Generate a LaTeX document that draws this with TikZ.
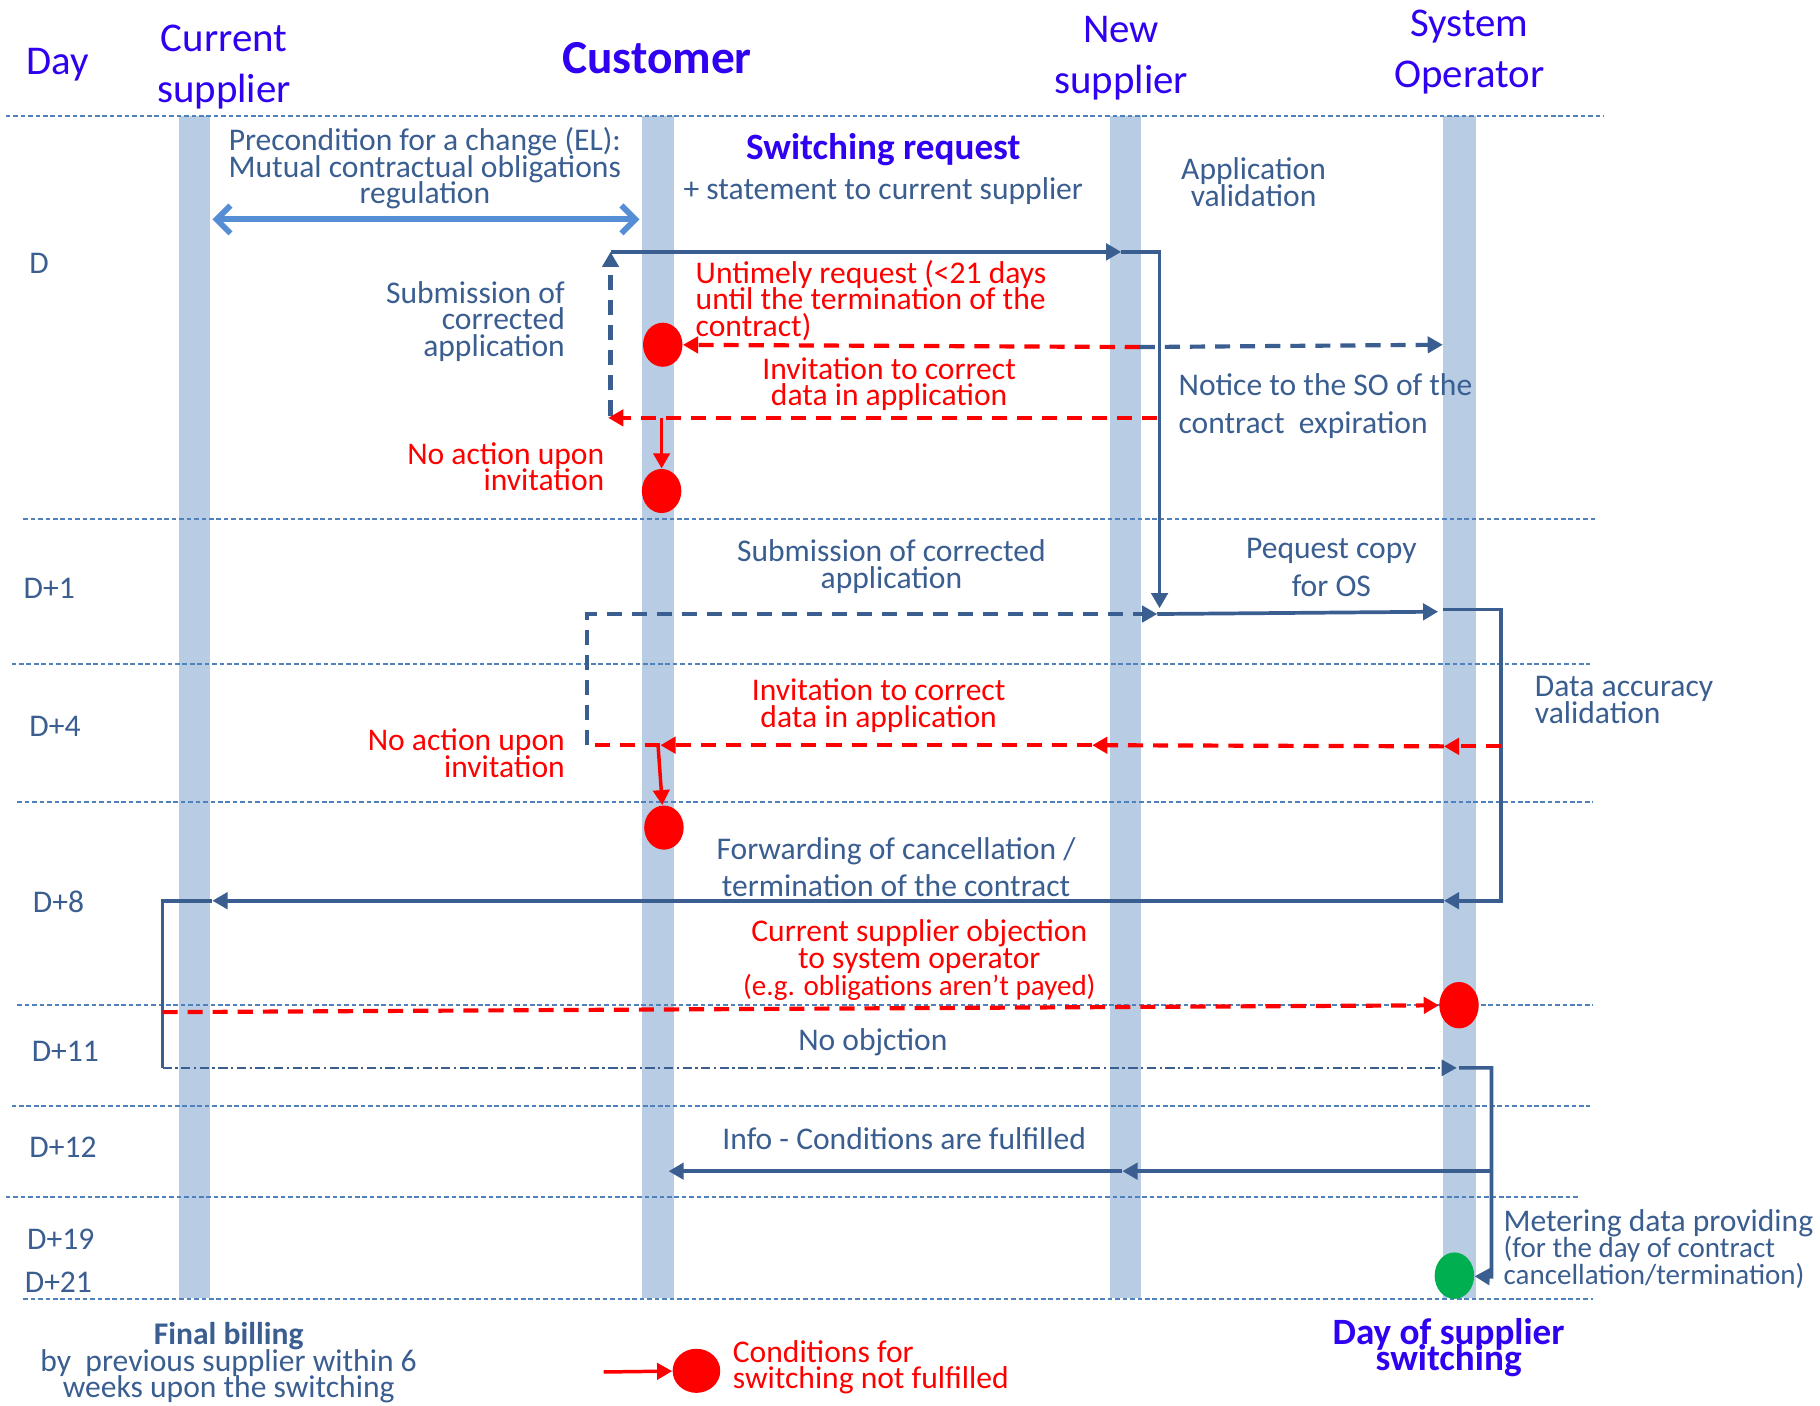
\documentclass[tikz,border=0pt]{standalone}
\usepackage{fontspec}
\setmainfont{Carlito}
\usepackage{tikz}
\usetikzlibrary{arrows.meta,shapes.geometric}
\definecolor{headblue}{RGB}{48,0,240}
\definecolor{txtblue}{RGB}{59,94,145}
\definecolor{sepblue}{RGB}{79,129,189}
\definecolor{barblue}{RGB}{184,204,228}
\definecolor{dblblue}{RGB}{85,142,213}
\definecolor{okgreen}{RGB}{0,176,80}
\newcommand{\bodyfont}{\fontsize{13.6}{11.5}\selectfont\lineskiplimit=-\maxdimen}
\newcommand{\widefont}{\fontsize{13.6}{16.5}\selectfont\lineskiplimit=-\maxdimen}
\newcommand{\smallfont}{\fontsize{12.5}{11.5}\selectfont}
\newcommand{\headfont}{\fontsize{17.6}{22}\selectfont\lineskiplimit=-\maxdimen}
\newcommand{\subheadfont}{\fontsize{16}{11}\selectfont\bfseries\lineskiplimit=-\maxdimen}

\begin{document}
\begin{tikzpicture}[x=0.5pt,y=-0.5pt,
  txt/.style={inner sep=0pt,text=txtblue,font=\bodyfont,align=center,yshift=-1pt},
  redtxt/.style={txt,text=red},
  head/.style={inner sep=0pt,text=headblue,font=\headfont,align=center,yshift=-1.5pt},
  subhead/.style={inner sep=0pt,text=headblue,font=\subheadfont,align=center,yshift=-1pt},
  lifeline/.style={fill=barblue,draw=none,inner sep=0pt,minimum width=13.5pt,minimum height=509pt},
  sep/.style={sepblue,line width=0.7pt,dash pattern=on 2pt off 1.2pt},
  flow/.style={txtblue,line width=1.6pt},
  dflow/.style={txtblue,line width=1.8pt,dash pattern=on 6.5pt off 4.3pt},
  rflow/.style={red,line width=1.8pt,dash pattern=on 6.5pt off 4.3pt},
  rsolid/.style={red,line width=1.5pt},
  dotdash/.style={txtblue,line width=1pt,dash pattern=on 4pt off 1.5pt on 1pt off 1.5pt},
  tip/.style={-{Triangle[length=6.5pt,width=7pt]}},
  dot/.style={ellipse,fill=red,draw=none,inner sep=0pt,minimum width=17pt,minimum height=19pt}]
\path[use as bounding box,fill=white] (0,0) rectangle (1568,1211);

\node[lifeline] (cs) at (167.5,609) {};
\node[lifeline] (cu) at (567,609) {};
\node[lifeline] (ns) at (969.5,609) {};
\node[lifeline,minimum width=14.5pt] (so) at (1257.5,609) {};

\draw[sep] (5,100) -- (1382,100);
\draw[sep] (20,447) -- (1375,447);
\draw[sep] (10,572) -- (1370,572);
\draw[sep] (15,691) -- (1372,691);
\draw[sep] (15,866) -- (1372,866);
\draw[sep] (10,953) -- (1370,953);
\draw[sep] (5,1031) -- (1360,1031);
\draw[sep] (20,1119) -- (1372,1119);

\node[head] (dayhd) at (50,53) {Day};
\node[head] (curhd) at (193,55) {Current\\supplier};
\node[head,yshift=1.5pt,font=\fontsize{20.4}{24}\selectfont\bfseries] (cushd) at (566,50) {Customer};
\node[head] (newhd) at (966,47) {New\\supplier};
\node[head] (sohd) at (1266,42) {System\\Operator};

\node[txt,anchor=west] (d0) at (25,225) {D};
\node[txt,anchor=west] (d1) at (20,505) {D+1};
\node[txt,anchor=west] (d4) at (25,624) {D+4};
\node[txt,anchor=west] (d8) at (28,775) {D+8};
\node[txt,anchor=west] (d11) at (27,904) {D+11};
\node[txt,anchor=west] (d12) at (25,986) {D+12};
\node[txt,anchor=west] (d19) at (23,1066) {D+19};
\node[txt,anchor=west] (d21) at (21,1103) {D+21};

\node[dot] (bad1) at (571,297) {};
\node[dot] (bad2) at (570,423) {};
\node[dot] (bad3) at (572,713) {};
\node[dot,minimum height=20pt] (bad4) at (1257,866) {};
\node[dot,fill=okgreen,minimum height=20pt] (ok) at (1253,1099) {};
\node[dot,minimum width=20.5pt] (legdot) at (600,1181) {};

\coordinate (pre1) at (183,189);
\coordinate (pre2) at (551,189);
\coordinate (req) at (526,217);
\coordinate (reqNS) at (966,217);
\coordinate (valT) at (999,217);
\coordinate (valB) at (999,524);
\coordinate (corrB) at (526,358);
\coordinate (untm) at (982,299);
\coordinate (notSO) at (1243,297);
\coordinate (inv1R) at (997,360);
\coordinate (inv1L) at (524,360);
\coordinate (inv1C) at (570,360);
\coordinate (inv2L) at (506,642);
\coordinate (resub) at (506,529);
\coordinate (valB2) at (997,529);
\coordinate (copySO) at (1239,527);
\coordinate (soA) at (1243,525);
\coordinate (chkT) at (1293,525);
\coordinate (chkB) at (1293,776);
\coordinate (soB) at (1244,776);
\coordinate (chkM) at (1293,643);
\coordinate (soC) at (1244,643);
\coordinate (nsC) at (941,642);
\coordinate (cuC) at (569,642);
\coordinate (cuC2) at (567,643);
\coordinate (csB) at (183,776);
\coordinate (csL) at (140,776);
\coordinate (csL2) at (140,920);
\coordinate (objL) at (140,872);
\coordinate (soD) at (1255,920);
\coordinate (soE) at (1257,920);
\coordinate (metT) at (1285,920);
\coordinate (metB) at (1285,1100);
\coordinate (metM) at (1285,1009);
\coordinate (nsF) at (967,1009);
\coordinate (cuF) at (576,1009);
\coordinate (legA) at (520,1182);

\draw[dblblue,line width=2.5pt,line cap=round,{Straight Barb[length=6pt,width=12pt]}-{Straight Barb[length=6pt,width=12pt]}] (pre1) -- (pre2);
\draw[flow,tip] (req) -- (reqNS);
\draw[flow,tip] (reqNS) -- (valT) -- (valB);
\draw[dflow,tip] (corrB) -- (req);
\draw[rflow,tip] (untm) -- (bad1);
\draw[dflow,tip] (untm) -- (notSO);
\draw[rflow,tip] (inv1R) -- (inv1L);
\draw[rsolid,tip] (inv1C) -- (bad2);

\draw[dflow,tip] (inv2L) -- (resub) -- (valB2);
\draw[flow,tip] (valB2) -- (copySO);
\draw[flow,tip] (soA) -- (chkT) -- (chkB) -- (soB);
\draw[rflow,tip] (chkM) -- (soC);
\draw[rflow,tip] (soC) -- (nsC);
\draw[rflow,tip] (nsC) -- (cuC);
\draw[rflow] (cuC) -- (inv2L);
\draw[rsolid,tip] (cuC2) -- (bad3);

\draw[flow,tip] (soB) -- (csB);
\draw[flow] (csB) -- (csL) -- (csL2);
\draw[dotdash,tip] (csL2) -- (soD);
\draw[rflow,tip] (objL) -- (bad4);
\draw[flow,tip] (soE) -- (metT) -- (metB) -- (ok);
\draw[flow,tip] (metM) -- (nsF);
\draw[flow,tip] (nsF) -- (cuF);
\draw[rsolid,tip] (legA) -- (legdot);

\node[txt] (precond) at (366,143) {Precondition for a change (EL):\\Mutual contractual obligations\\regulation};
\node[subhead] (swreq) at (761,127) {Switching request};
\node[txt] (stmt) at (761,163) {+ statement to current supplier};
\node[txt] (appval) at (1080,155) {Application\\validation};
\node[txt,align=right,anchor=east] (resub1) at (487,275) {Submission of\\corrected\\application};
\node[redtxt,align=left,anchor=west] (untmt) at (599,257) {Untimely request (<21 days\\until the termination of the\\contract)};
\node[redtxt] (inv1t) at (766,329) {Invitation to correct\\data in application};
\node[redtxt,align=right,anchor=east] (noact1) at (521,400) {No action upon\\invitation};
\node[txt,align=left,anchor=west,font=\widefont] (notice) at (1015,348) {Notice to the SO of the\\contract\ \ expiration};

\node[txt] (resub2) at (768,486) {Submission of corrected\\application};
\node[txt,font=\widefont] (copyt) at (1147,487) {Pequest copy\\for OS};
\node[redtxt] (inv2t) at (757,606) {Invitation to correct\\data in application};
\node[redtxt,align=right,anchor=east] (noact2) at (487,647) {No action upon\\invitation};
\node[txt,align=left,anchor=west] (accval) at (1322,601) {Data accuracy\\validation};

\node[txt,font=\fontsize{13.6}{16}\selectfont] (fwd) at (772,745) {Forwarding of cancellation /\\termination of the contract};
\node[redtxt] (objt) at (792,825) {Current supplier objection\\to system operator\\{\smallfont (e.g. obligations aren’t payed)}};
\node[txt] (noobj) at (752,896) {No objction};
\node[txt] (info) at (779,979) {Info - Conditions are fulfilled};
\node[txt,align=left,anchor=west] (meter) at (1295,1074) {Metering data providing\\{\smallfont (for the day of contract}\\{\smallfont cancellation/termination)}};

\node[txt] (bill) at (197,1172) {\textbf{Final billing}\\by\ \ previous supplier within 6\\weeks upon the switching};
\node[redtxt,align=left,anchor=west] (legt) at (631,1176) {Conditions for\\switching not fulfilled};
\node[subhead] (swday) at (1248,1159) {Day of supplier\\switching};
\end{tikzpicture}
\end{document}
